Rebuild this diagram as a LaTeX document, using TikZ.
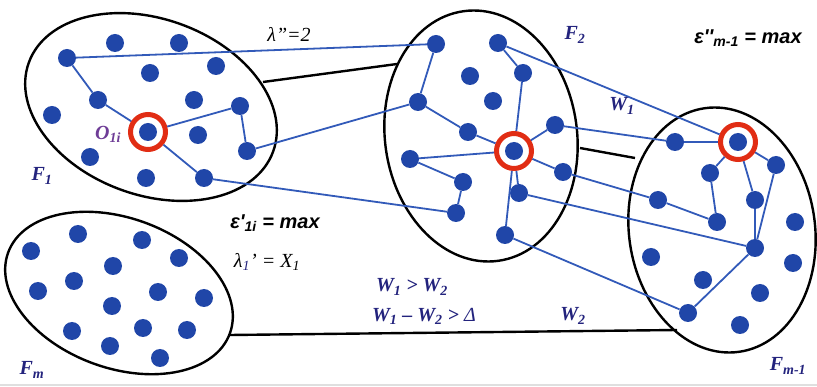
\documentclass[tikz,border=0pt]{standalone}
\usepackage{fontspec}
\setmainfont{Liberation Serif}
\newfontfamily\sanslab{Liberation Sans}
\usepackage{xcolor}
\usetikzlibrary{calc}
\definecolor{dotBlue}{RGB}{32,70,168}
\definecolor{lineBlue}{RGB}{50,90,185}
\definecolor{ringRed}{RGB}{225,45,20}
\definecolor{labNavy}{RGB}{35,35,125}
\definecolor{hubPurple}{RGB}{110,60,150}

\tikzset{
  dot/.style={circle, fill=dotBlue, inner sep=0pt, minimum size=18pt},
  hub/.style={circle, draw=ringRed, line width=5pt, fill=white, inner sep=0pt, minimum size=35pt},
  link/.style={lineBlue, line width=1.8pt},
  bridge/.style={black, line width=2.4pt},
  cluster/.style={black, line width=2.4pt},
  flab/.style={text=labNavy, font=\fontsize{20}{22}\selectfont\bfseries\itshape},
  maxlab/.style={font=\sanslab\fontsize{20}{22}\selectfont\bfseries\itshape},
  lamlab/.style={font=\fontsize{20}{22}\selectfont\itshape}
}

\begin{document}
\begin{tikzpicture}[x=1pt, y=-1pt]
  \useasboundingbox (0,0) rectangle (817,387);
  % Cluster outlines
  \draw[cluster, rotate around={-20:(151,107)}] (151,107) ellipse (130 and 88);
  \draw[cluster, rotate around={8:(481,136)}] (481,136) ellipse (96 and 126);
  \draw[cluster, rotate around={8:(722,230)}] (722,230) ellipse (93 and 123);
  \draw[cluster, rotate around={-20:(119,293)}] (119,293) ellipse (118 and 75);
  % frame edge at the bottom
  \draw[gray!25, line width=1.5pt] (0,385) -- (817,385);

  % Black links between clusters
  \coordinate (k1) at (263,82);  \coordinate (k2) at (397,64);
  \coordinate (k3) at (580,148); \coordinate (k4) at (635,158);
  \coordinate (k5) at (230,335); \coordinate (k6) at (677,330);
  \draw[bridge] (k1) -- (k2);
  \draw[bridge] (k3) -- (k4);
  \draw[bridge] (k5) -- (k6);

  % Hubs (red rings)
  \node[hub] (o1) at (148,132) {};
  \node[hub] (o2) at (514,151) {};
  \node[hub] (o3) at (738,142) {};

  % Cluster F1
  \foreach \n/\x/\y in {a1/115/43, a2/179/43, a3/67/58, a4/150/73, a5/216/66,
      a6/98/100, a7/194/100, a8/240/106, a9/52/115, a10/198/135,
      a11/247/151, a12/90/157, a13/146/178, a14/204/178}
    \node[dot] (\n) at (\x,\y) {};
  % Cluster F2
  \foreach \n/\x/\y in {b1/436/44, b2/498/43, b3/470/76, b4/523/73, b5/418/102,
      b6/493/101, b7/468/132, b8/555/125, b9/410/159, b10/463/182,
      b11/563/172, b12/519/193, b13/456/213, b14/505/235}
    \node[dot] (\n) at (\x,\y) {};
  % Cluster F_{m-1}
  \foreach \n/\x/\y in {c1/675/142, c2/710/173, c3/776/165, c4/658/200, c5/755/200,
      c6/717/222, c7/795/222, c8/755/248, c9/651/257, c10/793/263,
      c11/703/280, c12/760/293, c13/688/313, c14/740/325}
    \node[dot] (\n) at (\x,\y) {};
  % Cluster F_m
  \foreach \n/\x/\y in {d1/31/251, d2/78/234, d3/142/240, d4/179/258, d5/113/266,
      d6/74/281, d7/38/291, d8/158/292, d9/204/298, d10/112/306,
      d11/72/331, d12/143/328, d13/187/330, d14/110/346, d15/160/358}
    \node[dot] (\n) at (\x,\y) {};

  % Inner links
  \foreach \u/\v in {a3/a6, a6/o1, o1/a8, a8/a11, o1/a14,
      b1/b5, b2/b4, b4/o2, b5/b7, b7/o2, b9/o2, b9/b10, b10/b13,
      o2/b8, o2/b11, o2/b12, o2/b14,
      c1/o3, o3/c2, c2/c6, o3/c3, o3/c5, c5/c8, c3/c8, c8/c13, c4/c6}
    \draw[link] (\u) -- (\v);
  % Links across clusters
  \foreach \u/\v in {a3/b1, a11/b5, a14/b13, b2/o3, b8/c1, b11/c4, b12/c8, b14/c13}
    \draw[link] (\u) -- (\v);

  % Hub centres
  \node[dot] (o1c) at (o1) {};
  \node[dot] (o2c) at (o2) {};
  \node[dot] (o3c) at (o3) {};

  % Labels
  \node[flab] (lF1) at (42,176) {F\textsubscript{1}};
  \node[flab] (lF2) at (575,35) {F\textsubscript{2}};
  \node[flab] (lFm1) at (788,366) {F\textsubscript{m-1}};
  \node[flab] (lFm) at (32,370) {F\textsubscript{m}};
  \node[flab, text=hubPurple] (lO) at (108,134) {O\textsubscript{1i}};
  \node[flab] (lW1) at (622,106) {W\textsubscript{1}};
  \node[flab] (lW2) at (573,316) {W\textsubscript{2}};
  \node[flab] (lgt) at (412,287) {W\textsubscript{1} \textgreater{} W\textsubscript{2}};
  \node[flab] (ldiff) at (424,316) {W\textsubscript{1} -- W\textsubscript{2} \textgreater{} {\mdseries Δ}};
  \node[lamlab] (llam2) at (289,34) {λ''=2};
  \node[lamlab] (llam1) at (267,262) {λ\textsubscript{\textcolor{labNavy}{1}}' = X\textsubscript{1}};
  \node[maxlab] (leps1) at (275,223) {ε'\textsubscript{1i} = max};
  \node[maxlab] (lepsm) at (748,38) {ε''\textsubscript{m-1} = max};
\end{tikzpicture}
\end{document}
